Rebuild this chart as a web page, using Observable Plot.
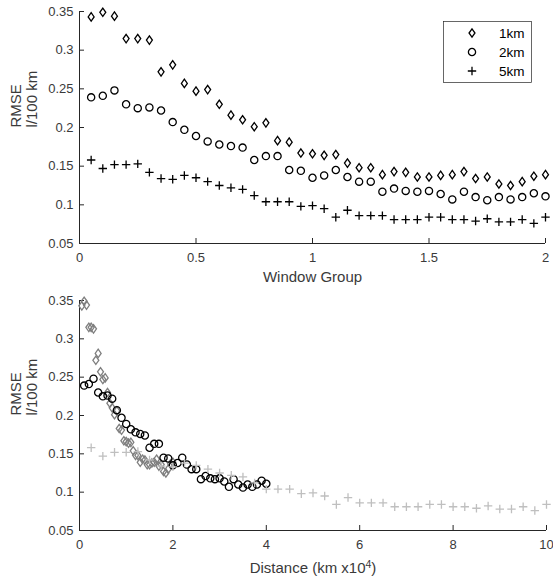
<!DOCTYPE html>
<html><head><meta charset="utf-8">
<script src="https://cdn.jsdelivr.net/npm/d3@7"></script>
<script src="https://cdn.jsdelivr.net/npm/@observablehq/plot@0.6"></script>
<style>
body{margin:0;background:#fff;}
#wrap{position:relative;width:553px;height:582px;font-family:"Liberation Sans",Arial,sans-serif;}
#wrap > svg, #wrap > figure{display:block;margin:0;}
#legend{position:absolute;left:0;top:0;pointer-events:none;}
</style></head><body><div id="wrap"></div>
<script>
// ---- data ----
const windowGroup = [0.05,0.1,0.15,0.2,0.25,0.3,0.35,0.4,0.45,0.5,0.55,0.6,0.65,0.7,0.75,0.8,0.85,0.9,0.95,1,1.05,1.1,1.15,1.2,1.25,1.3,1.35,1.4,1.45,1.5,1.55,1.6,1.65,1.7,1.75,1.8,1.85,1.9,1.95,2];
const rmse1km = [0.343,0.349,0.344,0.315,0.315,0.313,0.272,0.281,0.257,0.247,0.249,0.230,0.216,0.210,0.201,0.206,0.183,0.181,0.167,0.166,0.164,0.165,0.154,0.148,0.148,0.139,0.143,0.142,0.136,0.136,0.138,0.139,0.143,0.134,0.136,0.127,0.125,0.130,0.137,0.139];
const rmse2km = [0.239,0.241,0.248,0.230,0.225,0.226,0.222,0.207,0.197,0.189,0.182,0.178,0.176,0.174,0.158,0.163,0.163,0.145,0.144,0.135,0.138,0.145,0.136,0.130,0.130,0.117,0.121,0.118,0.117,0.118,0.114,0.107,0.117,0.110,0.106,0.110,0.107,0.110,0.115,0.111];
const rmse5km = [0.158,0.147,0.152,0.152,0.153,0.142,0.134,0.133,0.138,0.135,0.130,0.125,0.122,0.120,0.112,0.104,0.104,0.104,0.098,0.099,0.095,0.084,0.093,0.086,0.086,0.086,0.081,0.081,0.081,0.084,0.084,0.081,0.081,0.079,0.082,0.078,0.078,0.081,0.076,0.084];
const seriesNames = ["1km","2km","5km"];
const windowKm = [1,2,5];           // distance (x10^4 km) = window group x window size
const yTicks = [0.05,0.1,0.15,0.2,0.25,0.3,0.35];
const xTicksTop = [0,0.5,1,1.5,2];
const xTicksBottom = [0,2,4,6,8,10];
const topXLabel = "Window Group";
const bottomXLabel = "Distance (km x10";
const bottomXLabelSup = "4";
const bottomXLabelEnd = ")";
const yLabel = "RMSE\nl/100 km";

// ---- symbols (MATLAB-like) ----
const diamondSym = {draw(ctx, size){const r=Math.sqrt(size/Math.PI);ctx.moveTo(0,-1.2*r);ctx.lineTo(0.85*r,0);ctx.lineTo(0,1.2*r);ctx.lineTo(-0.85*r,0);ctx.closePath();}};
const circleSym = {draw(ctx, size){const r=Math.sqrt(size/Math.PI);ctx.moveTo(r,0);ctx.arc(0,0,r,0,2*Math.PI);}};
const plusSym = {draw(ctx, size){const r=Math.sqrt(size/Math.PI);ctx.moveTo(-r,0);ctx.lineTo(r,0);ctx.moveTo(0,-r);ctx.lineTo(0,r);}};
const symbols = [diamondSym, circleSym, plusSym];
const symR = [3.5, 3.6, 4.2];

const rows = [];
[rmse1km, rmse2km, rmse5km].forEach((arr, s) => {
  arr.forEach((v, i) => rows.push({series: seriesNames[s], s, wg: windowGroup[i], dist: windowGroup[i]*windowKm[s], rmse: v}));
});

const ink = "#262626";
const txt = "#3a3a3a";
const W = 553;

function panel({xKey, xDomain, xTicks, xLabel, height, mt, mb, mr, colors, labelDy}) {
  const frameH = height - mt - mb;
  const frameW = W - 79 - mr;
  const marks = [
    Plot.ruleX([xDomain[0]], {stroke: ink, strokeWidth: 1}),
    Plot.ruleY([yTicks[0]], {stroke: ink, strokeWidth: 1}),
    Plot.tickX(xTicks, {x: d => d, stroke: ink, insetTop: frameH - 5}),
    Plot.tickY(yTicks, {y: d => d, stroke: ink, insetRight: frameW - 5}),
    Plot.axisX(xTicks, {tickSize: 0, tickPadding: 9, tickFormat: d => String(d), fontSize: 13, color: txt, label: null}),
    Plot.axisY(yTicks, {tickSize: 0, tickPadding: 6, tickFormat: d => String(d), fontSize: 13, color: txt, label: null}),
    Plot.text([xLabel], {frameAnchor: "bottom", dy: labelDy, fontSize: 15, fill: txt}),
    Plot.text([yLabel], {frameAnchor: "left", dx: -56, rotate: -90, fontSize: 15, lineHeight: 1.08, fill: txt})
  ];
  [0,1,2].forEach(s => {
    marks.push(Plot.dot(rows.filter(d => d.s === s), {
      x: xKey, y: "rmse", symbol: () => symbols[s], r: symR[s],
      fill: "none", stroke: colors[s], strokeWidth: 1.3
    }));
  });
  return Plot.plot({
    width: W, height,
    marginLeft: 79, marginRight: mr, marginTop: mt, marginBottom: mb,
    x: {domain: xDomain, axis: null},
    y: {domain: [yTicks[0], yTicks[yTicks.length-1]], axis: null},
    style: {fontFamily: '"Liberation Sans", Arial, sans-serif', fontSize: "13px", color: ink, background: "white", overflow: "visible"},
    marks
  });
}

const wrap = document.getElementById("wrap");
wrap.appendChild(panel({xKey: "wg", xDomain: [0, 2], xTicks: xTicksTop, xLabel: topXLabel,
  height: 290, mt: 11, mb: 47, mr: 8, colors: ["#000","#000","#000"], labelDy: 38}));
const bottom = panel({xKey: "dist", xDomain: [0, 10], xTicks: xTicksBottom, xLabel: bottomXLabel,
  height: 292, mt: 10, mb: 52, mr: 7, colors: ["#7f7f7f","#000","#bfbfbf"], labelDy: 42});
wrap.appendChild(bottom);

// superscript in the distance label
d3.select(bottom).selectAll("text").filter(function(){ return this.textContent === bottomXLabel; })
  .each(function(){
    const t = d3.select(this);
    t.append("tspan").attr("dy","-0.45em").attr("font-size","0.7em").text(bottomXLabelSup);
    t.append("tspan").attr("dy","0.32em").text(bottomXLabelEnd);
  });

// ---- legend (top panel) ----
const lg = d3.select(wrap).append("svg").attr("id","legend").attr("width", W).attr("height", 100);
lg.append("rect").attr("x",443.5).attr("y",21.5).attr("width",88).attr("height",61)
  .attr("fill","white").attr("stroke",ink).attr("stroke-width",0.7);
seriesNames.forEach((name, s) => {
  const y = 33 + s*19;
  lg.append("path").attr("transform",`translate(472,${y})`)
    .attr("d", d3.symbol(symbols[s], symR[s]*symR[s]*Math.PI)())
    .attr("fill","none").attr("stroke","#000").attr("stroke-width",1.3);
  lg.append("text").attr("x",499).attr("y",y).attr("dy","0.35em")
    .attr("font-size",13.5).attr("font-family",'"Liberation Sans", Arial, sans-serif')
    .attr("fill","#000").text(name);
});
</script></body></html>
